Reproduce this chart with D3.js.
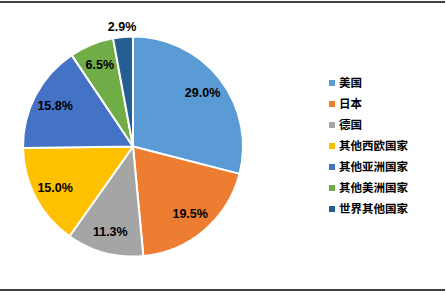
<!DOCTYPE html>
<html><head><meta charset="utf-8">
<script src="https://cdn.jsdelivr.net/npm/d3@7"></script>
<style>body{margin:0;background:#fff}</style>
</head><body>
<script>
const categories = ["美国","日本","德国","其他西欧国家","其他亚洲国家","其他美洲国家","世界其他国家"];
const values = [29.0, 19.5, 11.3, 15.0, 15.8, 6.5, 2.9];
const colors = ["#5B9BD5","#ED7D31","#A5A5A5","#FFC000","#4472C4","#70AD47","#255E91"];

const W = 446, H = 293;
const svg = d3.select("body").append("svg").attr("width", W).attr("height", H);

svg.append("line").attr("x1",0).attr("x2",445).attr("y1",2).attr("y2",2).attr("stroke","#000").attr("stroke-width",1.5);
svg.append("line").attr("x1",0).attr("x2",445).attr("y1",290).attr("y2",290).attr("stroke","#000").attr("stroke-width",1.5);

const cx = 133, cy = 146.5, r = 110;
const pie = d3.pie().sort(null).value(d => d)(values);
const arc = d3.arc().innerRadius(0).outerRadius(r);
const color = d3.scaleOrdinal().domain(categories).range(colors);

const g = svg.append("g").attr("transform", `translate(${cx},${cy})`);
g.selectAll("path").data(pie).join("path")
  .attr("d", arc)
  .attr("fill", (d,i) => color(categories[i]))
  .attr("stroke", "#fff").attr("stroke-width", 2).attr("stroke-linejoin","round");

const labelArc = d3.arc().innerRadius(r*0.8).outerRadius(r*0.8);
const outerArc = d3.arc().innerRadius(r*1.09).outerRadius(r*1.09);
g.selectAll("text").data(pie).join("text")
  .attr("transform", (d,i) => {
    const c = (i === values.length-1) ? outerArc.centroid(d) : labelArc.centroid(d);
    return `translate(${c[0]},${c[1]})`;
  })
  .attr("text-anchor","middle").attr("dy","0.35em")
  .attr("font-family","Liberation Sans, Arial, sans-serif")
  .attr("font-weight","bold").attr("font-size",12.5).attr("fill","#000")
  .text(d => d.data.toFixed(1) + "%");

const leg = svg.append("g").attr("transform","translate(329,83)");
const rows = leg.selectAll("g").data(categories).join("g")
  .attr("transform", (d,i) => `translate(0,${i*21})`);
rows.append("rect").attr("x",0).attr("y",-3).attr("width",6).attr("height",6).attr("fill", d => color(d));
rows.append("text").attr("x",10).attr("dy","0.35em")
  .attr("font-family","Noto Sans CJK SC, sans-serif").attr("font-weight","bold")
  .attr("font-size",11.5).attr("fill","#000").text(d => d);
</script>
</body></html>
